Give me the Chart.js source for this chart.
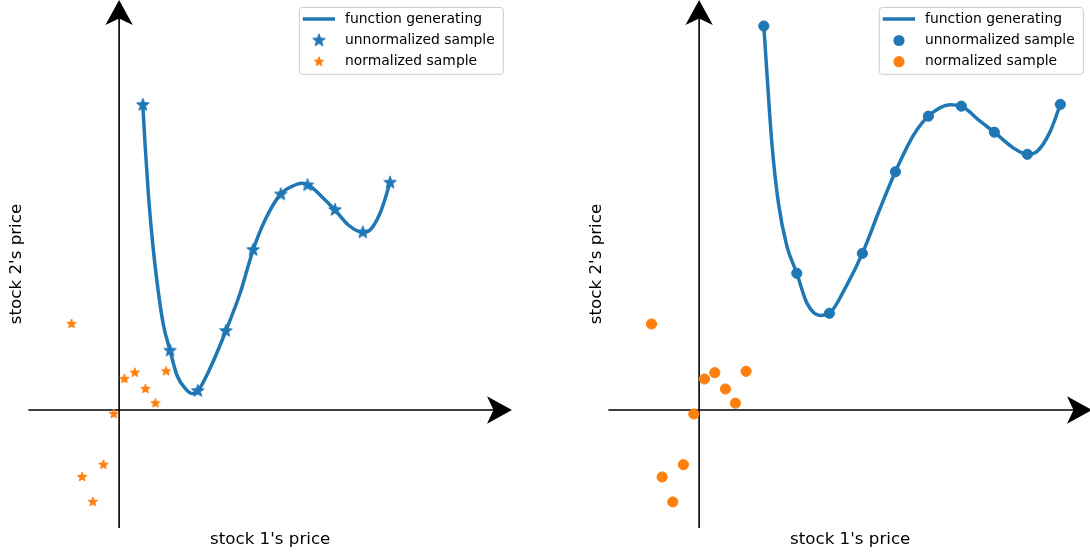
<!DOCTYPE html>
<html>
<head>
<meta charset="utf-8">
<script src="https://cdn.jsdelivr.net/npm/chart.js@4.4.1/dist/chart.umd.min.js"></script>
<style>
  html, body { margin: 0; padding: 0; background: #fff; overflow: hidden; }
  #wrap { position: relative; width: 1090px; height: 556px; overflow: hidden; background: #fff; }
  canvas { position: absolute; top: 0; }
  #left { left: 0; }
  #right { left: 580px; }
</style>
</head>
<body>
<div id="wrap">
  <canvas id="left" width="545" height="556"></canvas>
  <canvas id="right" width="545" height="556"></canvas>
</div>
<script>
// Axis ranges (same for both panels)
const xRange = [-2.27, 9.825];
const yRange = [-2.95, 10.25];

// Left panel: generating function and its samples
const curveLeftX = [0.593, 0.65, 0.733, 0.843, 0.968, 1.108, 1.275, 1.443, 1.65, 1.84, 1.968, 2.275, 2.668, 3.025, 3.35, 3.65, 4.043, 4.4, 4.568, 4.73, 5.068, 5.4, 5.733, 6.093, 6.275, 6.525, 6.775];
const curveLeftY = [7.625, 6.625, 5.375, 4.125, 3.043, 2.125, 1.483, 0.875, 0.543, 0.41, 0.475, 1.043, 1.975, 2.918, 4.0, 4.75, 5.4, 5.625, 5.668, 5.63, 5.333, 5.0, 4.625, 4.44, 4.5, 4.918, 5.683];
const sampleLeftX = [0.593, 1.275, 1.968, 2.668, 3.35, 4.043, 4.71, 5.4, 6.093, 6.775];
const sampleLeftY = [7.625, 1.483, 0.475, 1.975, 4.0, 5.39, 5.62, 5.0, 4.44, 5.683];

// Right panel
const curveRightX = [1.618, 1.693, 1.818, 1.983, 2.193, 2.443, 2.693, 3.025, 3.258, 3.693, 4.083, 4.525, 4.908, 5.358, 5.733, 6.275, 6.558, 7.025, 7.383, 7.858, 8.208, 8.443, 8.775, 9.033];
const curveRightY = [9.6, 8.468, 6.685, 5.173, 4.103, 3.418, 2.678, 2.365, 2.418, 3.123, 3.915, 5.038, 5.955, 6.865, 7.345, 7.633, 7.595, 7.22, 6.945, 6.553, 6.393, 6.458, 6.953, 7.64];
const sampleRightX = [1.618, 2.443, 3.258, 4.083, 4.908, 5.733, 6.558, 7.383, 8.208, 9.033];
const sampleRightY = [9.6, 3.418, 2.418, 3.915, 5.955, 7.345, 7.595, 6.945, 6.393, 7.64];

// Normalized samples (same in both panels)
const normX = [-1.19, 0.133, 0.393, 0.658, 0.908, 1.175, -0.133, -0.393, -0.925, -0.658];
const normY = [2.15, 0.775, 0.933, 0.525, 0.17, 0.968, -0.1, -1.368, -1.675, -2.3];

const labels = ['function generating', 'unnormalized sample', 'normalized sample'];
const BLUE = '#1f77b4', ORANGE = '#ff7f0e';

Chart.defaults.font.family = '"DejaVu Sans", sans-serif';
Chart.defaults.color = '#000';

const pts = (xs, ys) => xs.map((x, i) => ({ x, y: ys[i] }));

function starImage(r, color) {
  const c = document.createElement('canvas');
  const s = Math.ceil(r * 2 + 4);
  c.width = c.height = s;
  const g = c.getContext('2d');
  g.translate(s / 2, s / 2);
  g.beginPath();
  for (let i = 0; i < 10; i++) {
    const rad = i % 2 ? r * 0.42 : r;
    const a = -Math.PI / 2 + i * Math.PI / 5;
    g.lineTo(rad * Math.cos(a), rad * Math.sin(a));
  }
  g.closePath();
  g.fillStyle = color;
  g.fill();
  g.strokeStyle = color;
  g.lineWidth = 1;
  g.stroke();
  return c;
}

function arrowHead(ctx, tx, ty, dx, dy) {
  const L = 25, W = 13.7, N = 18.5;
  const px = -dy, py = dx;
  ctx.beginPath();
  ctx.moveTo(tx, ty);
  ctx.lineTo(tx - dx * L + px * W, ty - dy * L + py * W);
  ctx.lineTo(tx - dx * N, ty - dy * N);
  ctx.lineTo(tx - dx * L - px * W, ty - dy * L - py * W);
  ctx.closePath();
  ctx.fill();
}

// axes through the origin with arrow heads
const arrowAxes = {
  id: 'arrowAxes',
  beforeDatasetsDraw(chart) {
    const { ctx, chartArea: a, scales: { x, y } } = chart;
    const ox = x.getPixelForValue(0), oy = y.getPixelForValue(0);
    ctx.save();
    ctx.strokeStyle = '#000';
    ctx.fillStyle = '#000';
    ctx.lineWidth = 1.6;
    ctx.beginPath();
    ctx.moveTo(a.left, oy); ctx.lineTo(a.right - 18, oy);
    ctx.moveTo(ox, a.bottom); ctx.lineTo(ox, a.top + 18);
    ctx.stroke();
    arrowHead(ctx, a.right, oy, 1, 0);
    arrowHead(ctx, ox, a.top, 0, -1);
    ctx.restore();
  }
};

// matplotlib-like legend box in the upper right
const boxLegend = {
  id: 'boxLegend',
  afterDraw(chart) {
    const { ctx, chartArea: a } = chart;
    const x0 = a.right - 212.7, y0 = a.top + 7.5, w = 204, h = 66.8;
    const rows = [11.5, 33, 54.2];
    ctx.save();
    ctx.beginPath();
    ctx.roundRect(x0, y0, w, h, 3);
    ctx.fillStyle = 'rgba(255,255,255,0.8)';
    ctx.fill();
    ctx.strokeStyle = '#cccccc';
    ctx.lineWidth = 1;
    ctx.stroke();
    ctx.font = '13.9px "DejaVu Sans"';
    ctx.textBaseline = 'middle';
    chart.data.datasets.forEach((ds, i) => {
      const cy = y0 + rows[i], hx = x0 + 19.7;
      if (ds.showLine) {
        ctx.strokeStyle = ds.borderColor;
        ctx.lineWidth = ds.borderWidth;
        ctx.beginPath();
        ctx.moveTo(x0 + 3.5, cy); ctx.lineTo(x0 + 35.7, cy);
        ctx.stroke();
      } else if (ds.pointStyle instanceof HTMLCanvasElement) {
        const img = ds.pointStyle;
        ctx.drawImage(img, hx - img.width / 2, cy - img.height / 2);
      } else {
        ctx.fillStyle = ds.backgroundColor;
        ctx.beginPath();
        ctx.arc(hx, cy, ds.pointRadius + 0.5, 0, Math.PI * 2);
        ctx.fill();
      }
      ctx.fillStyle = '#000';
      ctx.fillText(ds.label, x0 + 45.7, cy);
    });
    ctx.restore();
  }
};

function makeChart(id, curveX, curveY, sampX, sampY, stars) {
  const markerBlue = stars ? { pointStyle: starImage(6.6, BLUE), pointRadius: 6 } : { pointStyle: 'circle', pointRadius: 5.1, pointBorderWidth: 1 };
  const markerOrange = stars ? { pointStyle: starImage(4.9, ORANGE), pointRadius: 5 } : { pointStyle: 'circle', pointRadius: 5.1, pointBorderWidth: 1 };
  return new Chart(document.getElementById(id), {
    type: 'scatter',
    data: {
      datasets: [
        {
          label: labels[0],
          data: pts(curveX, curveY),
          showLine: true,
          borderColor: BLUE,
          backgroundColor: BLUE,
          borderWidth: 3.5,
          pointRadius: 0,
          cubicInterpolationMode: 'monotone',
          order: 3
        },
        {
          label: labels[1],
          data: pts(sampX, sampY),
          backgroundColor: BLUE,
          borderColor: BLUE,
          ...markerBlue,
          order: 2
        },
        {
          label: labels[2],
          data: pts(normX, normY),
          backgroundColor: ORANGE,
          borderColor: ORANGE,
          ...markerOrange,
          order: 1
        }
      ]
    },
    options: {
      responsive: false,
      animation: false,
      events: [],
      layout: { autoPadding: false, padding: { left: 6, right: 33, top: 0, bottom: 5.96 } },
      plugins: { legend: { display: false }, tooltip: { enabled: false } },
      scales: {
        x: {
          type: 'linear', min: xRange[0], max: xRange[1],
          ticks: { display: false }, grid: { display: false, drawTicks: false, tickLength: 0 }, border: { display: false },
          title: { display: true, text: "stock 1's price", color: '#000', font: { size: 16.7 }, padding: { top: 2, bottom: 0 } }
        },
        y: {
          type: 'linear', min: yRange[0], max: yRange[1],
          ticks: { display: false }, grid: { display: false, drawTicks: false, tickLength: 0 }, border: { display: false },
          title: { display: true, text: "stock 2's price", color: '#000', font: { size: 16.7 }, padding: { top: 0.9, bottom: 1.4 } }
        }
      }
    },
    plugins: [arrowAxes, boxLegend]
  });
}

makeChart('left', curveLeftX, curveLeftY, sampleLeftX, sampleLeftY, true);
makeChart('right', curveRightX, curveRightY, sampleRightX, sampleRightY, false);
</script>
</body>
</html>
